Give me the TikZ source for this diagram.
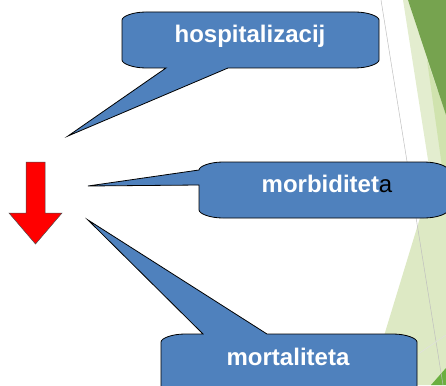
\documentclass[tikz,border=0pt]{standalone}
\usepackage{fontspec}
\setmainfont{Liberation Sans}
\definecolor{calloutblue}{HTML}{4F81BD}
\definecolor{darkgreen}{HTML}{76A34F}
\definecolor{lightgreen}{HTML}{E3EDCF}
\definecolor{lowgreen}{HTML}{DDE9C4}
\definecolor{midgreen}{HTML}{D0E3AE}
\definecolor{brightgreen}{HTML}{6AAF3F}
\tikzset{
  callout/.style={fill=calloutblue, draw=black, line width=0.8pt, line join=miter},
  lbl/.style={text=white, font=\fontsize{24}{28}\selectfont\bfseries, inner sep=0pt, anchor=base},
  redarrow/.style={fill=red, draw=black!70, line width=0.5pt}
}
\begin{document}
\begin{tikzpicture}[x=1pt,y=-1pt]
\useasboundingbox (0,0) rectangle (446,385);
\clip (0,0) rectangle (446,385);
% background facets
\fill[lightgreen] (403,0) -- (446,0) -- (446,275) -- cycle;
\fill[midgreen] (427,60) -- (446,115) -- (446,195) -- cycle;
\fill[darkgreen] (408,0) -- (446,0) -- (446,115) -- cycle;
\fill[lowgreen] (430,185) -- (446,170) -- (446,385) -- (369,385) -- cycle;
\fill[brightgreen] (431,385) -- (446,368) -- (446,385) -- cycle;
\draw[black!25, line width=0.5pt] (381,0) -- (443,385);
\draw[black!12, line width=0.5pt] (380,380) -- (446,335);
% callout 1
\draw[callout] (122,20) .. controls (122,16.4) and (132.75,12) .. (146,12)
  -- (355,12) .. controls (368.25,12) and (379,16.4) .. (379,20)
  -- (379,60) .. controls (379,63.6) and (368.25,68) .. (355,68)
  -- (228,68) -- (68,136) -- (166,68)
  -- (146,68) .. controls (132.75,68) and (122,63.6) .. (122,60) -- cycle;
% callout 2
\draw[callout] (199,170) .. controls (199,166.4) and (209.75,162) .. (223,162)
  -- (424,162) .. controls (437.25,162) and (448,166.4) .. (448,170)
  -- (448,210) .. controls (448,213.6) and (437.25,218) .. (424,218)
  -- (223,218) .. controls (209.75,218) and (199,213.6) .. (199,210)
  -- (199,185) -- (88,186) -- cycle;
% callout 3
\draw[callout] (161,342) .. controls (161,338.4) and (171.75,334) .. (185,334)
  -- (203,334) -- (88,220) -- (267,334)
  -- (393,334) .. controls (406.25,334) and (417,338.4) .. (417,342)
  -- (417,400) -- (161,400) -- cycle;
% red arrow
\draw[redarrow] (26,162) -- (45,162) -- (45,213) -- (62,213) -- (35.5,244) -- (9,213) -- (26,213) -- cycle;
% labels
\node[lbl] (hosp) at (250,43) {hospitalizacij};
\node[lbl] (morb) at (327,192) {morbiditet\textcolor{black}{\mdseries a}};
\node[lbl] (mort) at (288,365) {mortaliteta};
\end{tikzpicture}
\end{document}
